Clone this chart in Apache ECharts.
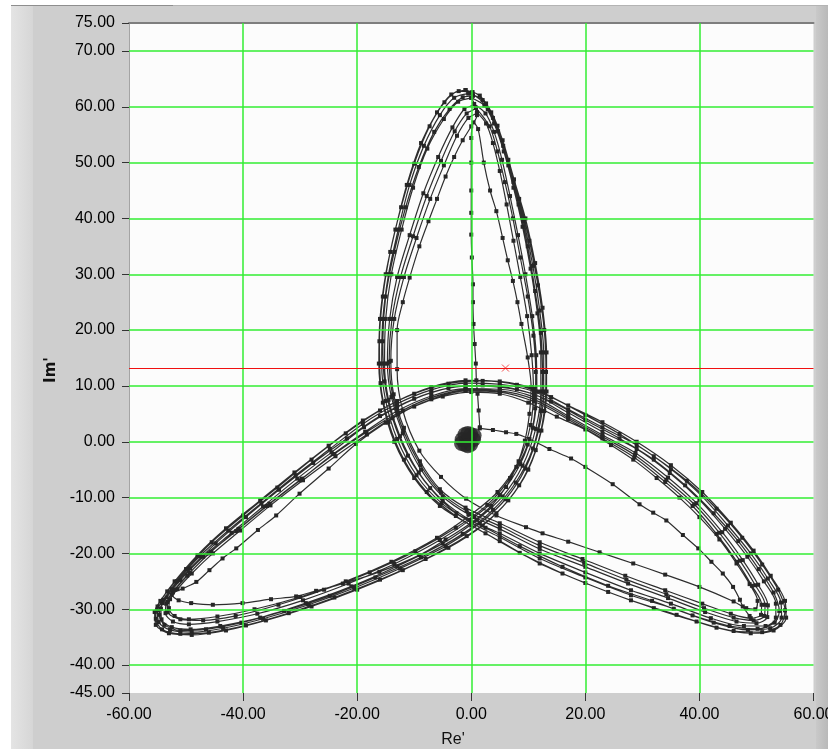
<!DOCTYPE html>
<html>
<head>
<meta charset="utf-8">
<script src="https://cdn.jsdelivr.net/npm/echarts@6/dist/echarts.min.js"></script>
<style>
  html, body { margin:0; padding:0; background:#ffffff; }
  #wrap { position:relative; width:828px; height:749px; overflow:hidden; background:#ffffff; }
  .panel { position:absolute; left:11px; top:5px; width:817px; height:744px; background:#CECECE; border-top:1px solid #B4B4B4; box-sizing:border-box; }
  .tab { position:absolute; left:11px; top:5px; width:162px; height:1px; background:#8E8E8E; }
  .lstrip { position:absolute; left:11px; top:6px; width:22px; height:743px; background:linear-gradient(to right,#E4E4E4,#D6D6D6); }
  .rstrip { position:absolute; left:816px; top:6px; width:12px; height:743px; background:linear-gradient(to right,#C9C9C9,#B9B9B9); }
  #chart { position:absolute; left:0; top:0; width:828px; height:749px; }
</style>
</head>
<body>
<div id="wrap">
  <div class="panel"></div>
  <div class="tab"></div>
  <div class="lstrip"></div>
  <div class="rstrip"></div>
  <div id="chart"></div>
</div>
<script>
// ---- axes / ticks ----
const xTickValues = [-60, -40, -20, 0, 20, 40, 60];
const yTickValues = [-45, -40, -30, -20, -10, 0, 10, 20, 30, 40, 50, 60, 70, 75];
const gridXLines = [-40, -20, 0, 20, 40];
const gridYLines = [-40, -30, -20, -10, 0, 10, 20, 30, 40, 50, 60, 70];
const cursorY = 13.2;
const cursorMarker = [6.0, 13.2];

// ---- trajectory (Re', Im') ----
const startPath = [[1.5,2.6],[1.3,5.6],[1.1,8.6],[0.9,11.0],[0.8,14.0],[0.6,17.5],[0.4,21.1],[0.3,25.0],[0.3,28.2],[0.1,33.0],[0.0,37.1],[0.0,41.0],[0.0,45.0],[0.0,50.0],[0.0,54.4],[0.4,57.2]];

const loop0 = [[1.2,56.0],[2.2,50.0],[3.3,45.0],[4.4,41.3],[5.5,36.5],[6.4,32.5],[7.3,28.8],[8.1,25.0],[8.8,21.1],[9.9,15.1],[10.5,9.8],[10.2,5.0],[9.4,0.2],[7.9,-4.5],[6.1,-8.1],[3.5,-11.5],[0.0,-14.5],[-4.5,-17.5],[-9.1,-20.3],[-16.1,-23.3],[-22.5,-25.4],[-27.2,-26.7],[-30.7,-27.7],[-35.1,-28.2],[-40.1,-28.9],[-45.3,-29.2],[-49.1,-28.9],[-51.3,-28.4],[-52.5,-27.4],[-50.6,-26.3],[-48.2,-25.1],[-45.9,-23.0],[-43.6,-20.9],[-41.2,-19.1],[-37.4,-15.8],[-34.2,-13.2],[-30.1,-9.3],[-25.0,-4.8],[-20.2,-0.4],[-15.0,3.4],[-10.0,6.3],[-5.0,8.1],[0.0,8.9],[5.0,8.6],[10.0,7.0],[15.0,4.5],[20.0,2.2],[24.5,-0.6],[28.4,-3.2],[32.5,-6.5],[36.5,-10.0],[40.0,-13.5],[43.5,-17.5],[46.5,-21.8],[48.8,-25.5],[50.2,-28.5],[49.8,-30.0],[48.2,-29.8],[46.0,-28.6],[40.0,-26.0],[34.0,-23.8],[28.4,-21.8],[22.5,-19.8],[17.0,-17.9],[12.5,-16.4],[9.6,-15.3],[4.4,-13.2],[-0.9,-10.2],[-5.3,-6.3],[-9.1,-1.6],[-12.0,5.6],[-13.0,13.0],[-13.0,20.0],[-12.0,25.0],[-10.8,29.4],[-9.1,35.0],[-7.5,39.5],[-6.0,43.5],[-4.5,47.5],[-3.0,51.0],[-1.5,54.0],[0.0,56.5],[1.0,58.5]];

const loopA = [[1.0,59.0],[2.6,57.0],[3.8,53.5],[5.0,48.5],[6.2,42.5],[7.4,36.0],[8.6,29.5],[9.8,22.5],[10.6,15.5],[10.9,9.5],[10.4,3.0],[8.3,-3.5],[4.6,-9.0],[0.0,-13.0],[-6.0,-17.2],[-14.0,-21.5],[-22.0,-25.0],[-30.0,-27.8],[-38.0,-30.0],[-44.5,-31.3],[-49.5,-31.8],[-52.0,-31.2],[-53.0,-29.8],[-52.8,-28.2],[-51.5,-26.4],[-49.0,-23.6],[-45.3,-20.0],[-40.5,-15.9],[-35.2,-11.4],[-29.5,-6.9],[-23.8,-2.6],[-18.3,1.3],[-12.8,4.9],[-7.0,7.6],[-1.0,9.1],[5.0,8.9],[11.0,7.2],[17.0,4.0],[23.0,0.6],[28.6,-2.8],[34.0,-7.2],[38.8,-11.5],[43.0,-16.5],[46.6,-21.5],[49.2,-25.8],[50.9,-29.2],[50.8,-31.0],[49.0,-31.6],[45.5,-30.8],[40.5,-29.0],[34.0,-26.6],[27.0,-24.0],[19.5,-21.0],[12.0,-18.0],[5.0,-14.6],[-1.0,-11.8],[-5.5,-8.5],[-9.0,-3.5],[-11.8,2.5],[-13.6,8.5],[-14.1,14.5],[-13.5,22.0],[-11.8,29.5],[-9.6,36.5],[-7.2,43.5],[-4.8,49.5],[-2.5,54.8],[-0.5,58.0],[1.0,59.0]];

const loopH = [[0.8,59.8],[3.2,56.5],[4.6,52.0],[5.9,46.5],[7.3,40.0],[8.6,33.0],[9.9,26.0],[10.9,19.0],[11.3,12.5],[11.2,6.0],[9.9,-0.5],[6.8,-6.5],[2.8,-11.3],[-2.7,-15.4],[-9.8,-19.6],[-17.8,-23.4],[-25.8,-26.5],[-33.8,-29.2],[-41.3,-31.2],[-47.0,-32.0],[-51.0,-31.8],[-53.2,-30.5],[-53.3,-28.7],[-52.0,-26.5],[-49.4,-23.5],[-45.6,-19.7],[-40.8,-15.6],[-35.4,-11.1],[-29.7,-6.6],[-24.0,-2.2],[-18.4,1.7],[-12.8,5.2],[-7.0,7.9],[-1.0,9.3],[5.0,9.1],[11.0,7.6],[17.0,4.3],[23.0,0.9],[28.7,-2.4],[34.2,-6.8],[39.1,-11.2],[43.5,-16.3],[47.1,-21.3],[49.8,-25.7],[51.5,-29.2],[51.4,-31.2],[49.5,-32.0],[46.0,-31.5],[40.8,-29.8],[34.2,-27.3],[27.2,-24.7],[19.8,-21.7],[12.0,-18.6],[5.0,-15.1],[-0.8,-12.4],[-5.3,-9.1],[-8.9,-4.2],[-11.9,2.0],[-13.8,8.3],[-14.4,14.3],[-13.9,22.0],[-12.4,29.5],[-10.2,36.8],[-7.8,44.0],[-5.3,50.3],[-2.9,55.6],[-0.8,58.8],[0.8,59.8]];

const loopB = [[0.5,60.5],[2.5,58.8],[4.0,55.5],[5.4,50.5],[6.8,44.0],[8.2,37.0],[9.5,30.0],[10.7,22.5],[11.4,15.5],[11.5,9.0],[10.8,2.5],[8.6,-4.0],[5.0,-9.5],[0.5,-13.5],[-5.5,-17.6],[-13.5,-21.9],[-21.5,-25.4],[-29.5,-28.4],[-37.5,-30.8],[-44.5,-32.2],[-49.5,-32.7],[-52.3,-32.2],[-53.6,-30.7],[-53.5,-29.0],[-52.3,-27.0],[-49.8,-24.0],[-46.0,-20.0],[-41.2,-16.0],[-35.8,-11.5],[-30.0,-6.9],[-24.2,-2.2],[-18.6,1.8],[-13.0,5.5],[-7.0,8.2],[-1.0,9.5],[5.0,9.4],[11.0,8.0],[17.0,4.6],[23.0,1.2],[28.8,-2.0],[34.5,-6.4],[39.5,-11.0],[44.0,-16.2],[47.6,-21.2],[50.3,-25.6],[52.0,-29.3],[51.9,-31.4],[50.0,-32.5],[46.5,-32.2],[41.0,-30.5],[34.5,-28.0],[27.5,-25.4],[20.0,-22.4],[12.0,-19.2],[5.0,-15.6],[-0.5,-13.0],[-5.0,-9.8],[-8.8,-5.0],[-12.0,1.5],[-14.0,8.0],[-14.7,14.0],[-14.3,22.0],[-13.0,29.5],[-10.8,37.0],[-8.4,44.5],[-5.8,51.0],[-3.3,56.3],[-1.2,59.6],[0.5,60.5]];

const loopC = [[0.0,61.6],[2.3,60.2],[4.0,57.0],[5.7,52.0],[7.4,45.5],[9.0,38.5],[10.4,31.0],[11.6,23.0],[12.2,16.0],[12.2,9.0],[11.3,2.3],[9.0,-4.3],[5.5,-9.8],[1.0,-14.0],[-5.0,-18.2],[-13.0,-22.3],[-21.0,-25.9],[-29.0,-28.9],[-37.0,-31.5],[-44.0,-33.0],[-49.2,-33.6],[-52.5,-33.2],[-54.3,-31.8],[-54.4,-29.9],[-53.4,-27.9],[-51.0,-24.8],[-47.0,-20.6],[-42.0,-16.3],[-36.5,-11.6],[-30.5,-6.6],[-24.5,-1.9],[-18.8,2.6],[-13.0,6.2],[-7.0,8.8],[-1.0,10.0],[5.0,9.8],[11.0,8.5],[17.0,5.2],[23.0,1.8],[29.0,-1.3],[34.8,-5.6],[40.0,-10.4],[44.5,-15.6],[48.4,-20.6],[51.3,-25.0],[53.4,-29.0],[53.4,-31.5],[51.6,-33.0],[47.8,-33.0],[42.0,-31.6],[35.0,-29.0],[28.0,-26.6],[20.0,-23.4],[12.0,-20.0],[5.0,-16.4],[-0.2,-14.0],[-5.0,-10.5],[-9.2,-5.5],[-12.5,1.0],[-14.5,7.5],[-15.2,14.0],[-15.0,22.0],[-14.0,30.0],[-12.2,38.0],[-10.2,45.5],[-7.7,52.5],[-4.8,57.8],[-2.3,60.9],[0.0,61.6]];

const loopG = [[0.3,62.0],[2.9,59.6],[4.7,55.6],[6.5,49.5],[8.3,42.5],[9.9,35.0],[11.2,27.0],[12.2,19.5],[12.5,12.5],[12.2,5.5],[10.8,-1.2],[7.8,-7.3],[3.8,-12.2],[-1.5,-16.5],[-8.8,-20.7],[-16.8,-24.3],[-24.8,-27.6],[-32.8,-30.3],[-40.3,-32.4],[-46.5,-33.6],[-51.0,-33.8],[-53.8,-32.8],[-54.7,-31.0],[-54.2,-28.9],[-52.5,-26.4],[-49.3,-22.7],[-44.8,-18.2],[-39.5,-13.5],[-33.7,-8.6],[-27.7,-3.8],[-21.8,0.6],[-16.0,4.6],[-10.0,7.7],[-4.0,9.6],[2.0,10.1],[8.0,9.4],[14.0,7.2],[20.0,3.9],[26.0,0.6],[32.0,-3.2],[37.5,-7.8],[42.5,-12.8],[46.8,-17.8],[50.4,-22.8],[53.0,-27.0],[54.0,-30.3],[53.2,-32.4],[50.2,-33.5],[45.3,-33.0],[38.8,-31.1],[31.7,-28.5],[24.0,-25.8],[16.0,-22.4],[8.5,-18.7],[2.5,-15.4],[-2.6,-12.8],[-7.2,-8.3],[-11.1,-2.5],[-13.8,4.2],[-15.2,10.8],[-15.5,18.0],[-15.0,26.0],[-13.5,34.0],[-11.5,42.0],[-9.2,49.2],[-6.5,55.5],[-3.8,59.6],[-1.5,61.7],[0.3,62.0]];

const loopD = [[-0.5,62.4],[2.0,61.2],[3.8,58.0],[5.6,53.0],[7.4,46.5],[9.2,39.5],[10.8,31.5],[12.0,23.5],[12.7,16.0],[12.7,9.0],[11.8,2.0],[9.5,-4.8],[6.0,-10.3],[1.5,-14.6],[-4.5,-18.7],[-12.5,-22.7],[-20.5,-26.2],[-28.5,-29.2],[-36.5,-31.7],[-43.5,-33.4],[-49.0,-34.1],[-52.8,-33.7],[-54.8,-32.3],[-55.0,-30.2],[-54.0,-28.3],[-51.6,-25.0],[-47.6,-20.5],[-42.6,-15.9],[-36.8,-11.0],[-30.8,-6.0],[-24.8,-1.3],[-19.0,3.2],[-13.0,6.8],[-7.0,9.3],[-1.0,10.5],[5.0,10.3],[11.0,9.0],[17.0,5.8],[23.0,2.6],[29.0,-0.6],[35.0,-4.9],[40.3,-9.6],[45.0,-15.0],[49.0,-20.0],[52.0,-24.5],[54.3,-28.8],[54.4,-31.5],[52.4,-33.4],[48.5,-33.7],[42.5,-32.4],[35.5,-29.9],[28.0,-27.5],[20.0,-24.3],[12.0,-20.9],[5.0,-17.1],[0.0,-14.5],[-5.2,-11.0],[-9.6,-6.0],[-13.0,0.5],[-15.0,7.3],[-15.7,14.0],[-15.5,22.0],[-14.5,30.0],[-12.8,38.0],[-10.8,46.0],[-8.3,53.0],[-5.5,58.5],[-3.0,61.6],[-0.5,62.4]];

const loopF = [[0.2,62.6],[2.6,60.6],[4.6,56.6],[6.5,50.5],[8.4,43.5],[10.2,36.0],[11.7,28.0],[12.8,20.0],[13.1,12.5],[12.8,5.5],[11.3,-1.5],[8.4,-7.8],[4.4,-12.8],[-0.8,-16.9],[-8.0,-21.0],[-16.0,-24.7],[-24.0,-27.9],[-32.0,-30.7],[-39.5,-32.9],[-46.0,-34.2],[-51.0,-34.4],[-54.2,-33.6],[-55.3,-31.7],[-55.0,-29.5],[-53.3,-26.8],[-50.0,-22.8],[-45.5,-18.0],[-40.0,-13.2],[-34.0,-8.2],[-28.0,-3.2],[-22.0,1.5],[-16.0,5.6],[-10.0,8.6],[-4.0,10.4],[2.0,10.9],[8.0,10.2],[14.0,8.0],[20.0,4.8],[26.0,1.4],[32.0,-2.6],[37.8,-7.0],[43.0,-12.0],[47.5,-17.2],[51.0,-22.0],[53.8,-26.5],[55.0,-30.2],[54.2,-32.8],[51.0,-34.1],[46.0,-33.9],[39.5,-32.2],[32.0,-29.8],[24.0,-26.9],[16.0,-23.6],[8.5,-19.9],[2.5,-16.4],[-2.7,-13.3],[-7.8,-9.0],[-11.8,-3.2],[-14.5,3.5],[-15.9,10.5],[-16.1,18.0],[-15.5,26.0],[-14.2,34.0],[-12.3,42.0],[-10.0,49.8],[-7.3,56.5],[-4.7,60.8],[-2.2,62.8],[0.2,62.6]];

const loopE = [[-1.0,63.0],[1.5,62.0],[3.5,59.0],[5.5,54.0],[7.5,47.0],[9.5,40.0],[11.2,32.0],[12.5,24.0],[13.2,16.0],[13.2,9.0],[12.3,2.0],[10.0,-5.0],[6.5,-10.5],[2.0,-15.0],[-4.0,-19.0],[-12.0,-23.0],[-20.0,-26.5],[-28.0,-29.5],[-36.0,-32.0],[-43.0,-33.8],[-49.0,-34.6],[-53.0,-34.3],[-55.3,-32.8],[-55.5,-30.5],[-54.5,-28.5],[-52.0,-25.0],[-48.0,-20.3],[-43.0,-15.5],[-37.0,-10.5],[-31.0,-5.5],[-25.0,-0.7],[-19.0,3.8],[-13.0,7.3],[-7.0,9.8],[-1.0,11.0],[5.0,10.8],[11.0,9.5],[17.0,6.5],[23.0,3.5],[29.0,0.0],[35.0,-4.2],[40.5,-9.0],[45.5,-14.5],[49.5,-19.5],[52.5,-24.0],[55.0,-28.5],[55.2,-31.5],[53.0,-33.8],[49.0,-34.3],[43.0,-33.3],[36.0,-31.0],[28.0,-28.4],[20.0,-25.3],[12.0,-21.8],[5.0,-17.8],[0.0,-15.0],[-5.5,-11.5],[-10.0,-6.5],[-13.5,0.0],[-15.5,7.0],[-16.2,14.0],[-16.0,22.0],[-15.0,30.0],[-13.3,38.0],[-11.3,46.0],[-8.8,53.5],[-6.0,59.0],[-3.5,62.2],[-1.0,63.0]];

const endPath = [[48.8,-31.2],[47.6,-29.5],[47.1,-28.3],[45.9,-26.0],[44.1,-23.6],[42.1,-21.5],[39.8,-19.1],[37.1,-16.7],[34.2,-14.1],[31.9,-12.7],[29.5,-11.2],[24.8,-7.6],[20.0,-4.5],[17.5,-3.0],[13.7,-1.3],[10.2,0.5],[7.9,1.4],[6.1,1.7],[3.8,2.1],[1.5,2.4]];

const blob = [[-0.6,0.4],[0.4,0.4],[-0.1,1.3],[-1.1,1.3],[-1.6,0.4],[-1.1,-0.5],[-0.1,-0.5],[0.5,1.1],[-1.7,-0.3],[-0.6,1.5],[-0.6,-0.7]];

const trajectory = [].concat(startPath, loop0, loopA, loopH, loopB, loopC, loopG, loopD, loopF, loopE);

const labelFont = "'Liberation Sans', Arial, sans-serif";
const fmt = v => (Math.round(v * 100) / 100).toFixed(2);

const chart = echarts.init(document.getElementById('chart'), null, { renderer: 'canvas' });
chart.setOption({
  animation: false,
  backgroundColor: 'transparent',
  grid: { left: 129, right: 14.5, top: 23, bottom: 56, show: true, backgroundColor: '#FCFCFC', borderWidth: 0, containLabel: false, outerBoundsMode: 'none' },
  xAxis: [
    {
      type: 'value', min: -60, max: 60, interval: 20, position: 'bottom',
      axisLine: { show: false, onZero: false },
      axisTick: { show: true, length: 8, lineStyle: { color: '#333', width: 1 }, customValues: xTickValues },
      axisLabel: { show: true, margin: 14, color: '#000', fontSize: 16, fontFamily: labelFont, formatter: fmt, customValues: xTickValues },
      splitLine: { show: false }
    },
    {
      type: 'value', min: -60, max: 60, interval: 20, position: 'top',
      axisLine: { show: true, onZero: false, lineStyle: { color: '#7E7E7E', width: 2 } },
      axisTick: { show: false }, axisLabel: { show: false }, splitLine: { show: false }
    }
  ],
  yAxis: {
    type: 'value', min: -45, max: 75, interval: 5,
    axisLine: { show: true, onZero: false, lineStyle: { color: '#A4A4A4', width: 1 } },
    axisTick: { show: true, length: 7, lineStyle: { color: '#333', width: 1 }, customValues: yTickValues },
    axisLabel: {
      show: true, margin: 14, color: '#000', fontSize: 16, fontFamily: labelFont,
      customValues: yTickValues,
      formatter: v => (yTickValues.indexOf(Math.round(v)) >= 0 ? fmt(v) : '')
    },
    splitLine: { show: false }
  },
  graphic: [
    { type: 'text', x: 51, y: 370, rotation: Math.PI / 2,
      style: { text: "Im'", fill: '#111', font: "bold 15px 'DejaVu Sans'", align: 'center', verticalAlign: 'middle' } },
    { type: 'text', x: 453, y: 740,
      style: { text: "Re'", fill: '#111', font: "16px " + labelFont, align: 'center', verticalAlign: 'middle' } }
  ],
  series: [
    {
      type: 'line', data: [], z: 1, silent: true,
      markLine: {
        silent: true, symbol: ['none', 'none'], animation: false,
        label: { show: false },
        lineStyle: { color: '#33EE33', width: 1.5, type: 'solid' },
        data: gridXLines.map(v => ({ xAxis: v })).concat(gridYLines.map(v => ({ yAxis: v })))
      }
    },
    {
      type: 'line', data: trajectory, z: 3, smooth: 0.3,
      symbol: 'rect', symbolSize: 4, showAllSymbol: true,
      itemStyle: { color: '#262626' },
      lineStyle: { color: '#2e2e2e', width: 1.2 }
    },
    {
      type: 'line', data: endPath, z: 3, smooth: 0.3,
      symbol: 'rect', symbolSize: 4, showAllSymbol: true,
      itemStyle: { color: '#262626' },
      lineStyle: { color: '#2e2e2e', width: 1.2 }
    },
    {
      type: 'scatter', data: blob, z: 3, symbol: 'circle', symbolSize: 15,
      itemStyle: { color: '#262626' }
    },
    {
      type: 'line', data: [], z: 5, silent: true,
      markLine: {
        silent: true, symbol: ['none', 'none'], animation: false,
        label: { show: false },
        lineStyle: { color: '#F01010', width: 1, type: 'solid' },
        data: [{ yAxis: cursorY }]
      }
    },
    {
      type: 'scatter', data: [cursorMarker], z: 6, symbol: 'path://M0,0L10,10M10,0L0,10', symbolSize: 7,
      itemStyle: { color: 'none', borderColor: '#F02020', borderWidth: 1 }
    }
  ]
});
</script>
</body>
</html>
